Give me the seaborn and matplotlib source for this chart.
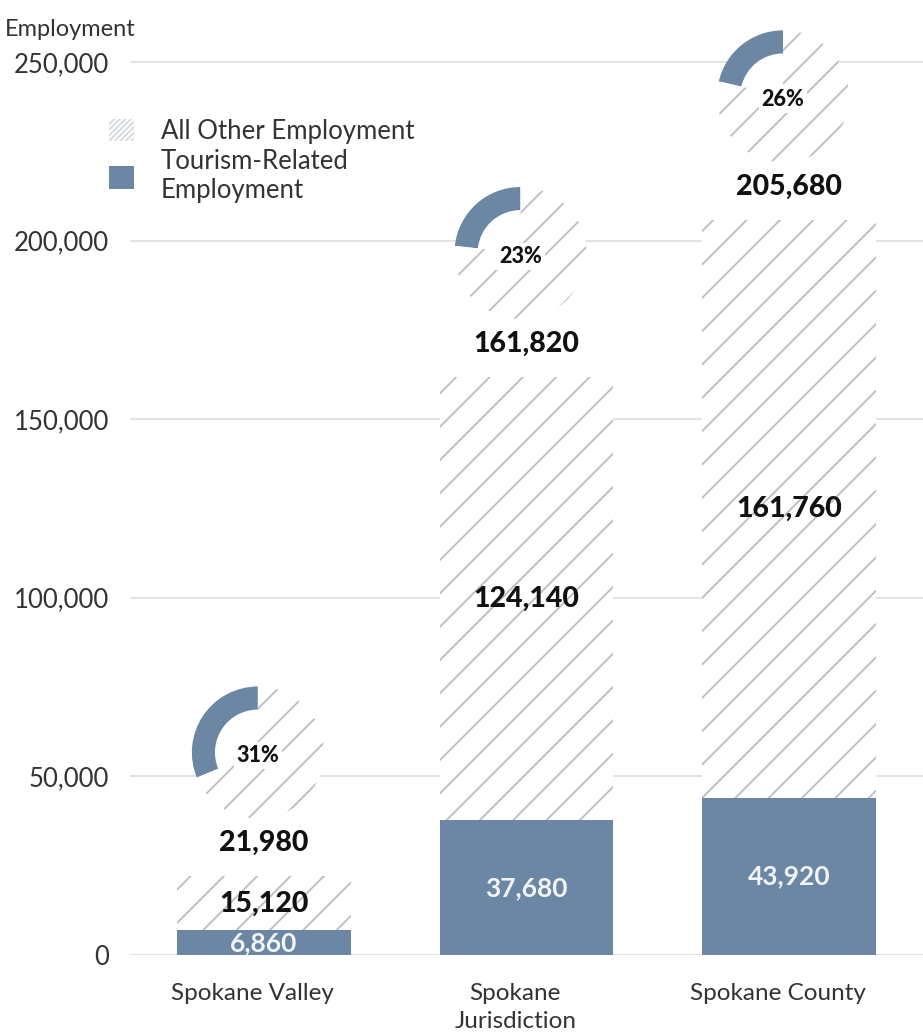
import matplotlib
matplotlib.use("Agg")
import matplotlib.pyplot as plt
import matplotlib.transforms as mtransforms
import seaborn as sns
from matplotlib.patches import Patch, Circle

places = ["Spokane Valley", "Spokane\nJurisdiction", "Spokane County"]
tourism = [6860, 37680, 43920]
other = [15120, 124140, 161760]
totals = [21980, 161820, 205680]
pct_labels = ["31%", "23%", "26%"]
yticks = [0, 50000, 100000, 150000, 200000, 250000]

blue = "#6b87a3"
hatch_gray = "#b9bec6"
text_col = "#333333"

sns.set_theme(style="white")
plt.rcParams["font.family"] = ["Lato", "DejaVu Sans"]
plt.rcParams["hatch.linewidth"] = 1.3

fig = plt.figure(figsize=(9.23, 10.36), dpi=100)
ax = fig.add_axes([0.1408, 0.0782, 0.8592, 0.8964])

# whole bar = total (hatched), tourism drawn on top
sns.barplot(x=places, y=totals, color="white", saturation=1, width=0.66,
            edgecolor=hatch_gray, hatch="/", linewidth=0, ax=ax, zorder=2)
sns.barplot(x=places, y=tourism, color=blue, saturation=1, width=0.66,
            linewidth=0, ax=ax, zorder=3)

ax.set_xlim(-0.51, 2.51)
ax.set_ylim(0, 260000)
ax.set_yticks(yticks)
ax.set_yticklabels([f"{v:,}" for v in yticks], fontsize=18.5, color=text_col)
ax.tick_params(axis="y", length=0, pad=15)
ax.tick_params(axis="x", length=0, pad=20, labelsize=17.5, labelcolor=text_col)
shift = mtransforms.ScaledTranslation(-8 / 72, 0, fig.dpi_scale_trans)
for lab in ax.get_xticklabels():
    lab.set_linespacing(1.45)
    lab.set_transform(lab.get_transform() + shift)
ax.yaxis.grid(True, color="#e3e3e3", linewidth=1.5, zorder=0)
ax.set_axisbelow(True)
sns.despine(ax=ax, left=True, bottom=True)

for i in range(3):
    ax.text(i, tourism[i] / 2, f"{tourism[i]:,}", ha="center", va="center",
            color="#f2f4f7", fontsize=19, fontweight="bold", zorder=4)
    ax.text(i, tourism[i] + other[i] / 2, f"{other[i]:,}", ha="center",
            va="center", color="#111111", fontsize=20.5, fontweight="black", zorder=4)
    ax.annotate(f"{totals[i]:,}", (i, totals[i]), xytext=(0, 24),
                textcoords="offset points", ha="center", va="center",
                color="#111111", fontsize=20.5, fontweight="black")

fig.text(0.005, 1 - 29 / 1036, "Employment", fontsize=17, color=text_col,
         ha="left", va="center")

# donuts above each bar
fig.canvas.draw()
r_px = 66
W, H = fig.bbox.width, fig.bbox.height
for i in range(3):
    cx, cy = ax.transData.transform((i, totals[i]))
    cx -= 6
    cy += 124
    dax = fig.add_axes([(cx - r_px) / W, (cy - r_px) / H, 2 * r_px / W, 2 * r_px / H])
    dax.add_patch(Circle((0, 0), 1, facecolor="white", edgecolor="none", zorder=0))
    share = tourism[i] / totals[i]
    dax.pie([share], radius=1, startangle=90, counterclock=True,
            colors=[blue], normalize=False,
            wedgeprops=dict(width=0.35, linewidth=0))
    dax.pie([1 - share], radius=1, startangle=90 + 360 * share,
            counterclock=True, colors=["white"], normalize=False,
            wedgeprops=dict(linewidth=0, edgecolor=hatch_gray, hatch="/"))
    dax.text(0, -0.05, pct_labels[i], ha="center", va="center", fontsize=15.5,
             fontweight="black", color="#111111",
             bbox=dict(facecolor="white", edgecolor="none", pad=2))
    dax.set_xlim(-1, 1)
    dax.set_ylim(-1, 1)
    dax.set_aspect("equal")
    dax.axis("off")

handles = [Patch(facecolor="white", edgecolor="#d5d8dd", hatch="//////", linewidth=0),
           Patch(facecolor=blue, edgecolor="none")]
fig.legend(handles, ["All Other Employment", "Tourism-Related\nEmployment"],
           loc="upper left", bbox_to_anchor=(86 / 923, 1 - 96 / 1036),
           frameon=False, fontsize=18.5, handlelength=0.95, handleheight=0.95,
           handletextpad=1.05, labelspacing=0.2, labelcolor=text_col)

fig.savefig("out.png", dpi=100)
